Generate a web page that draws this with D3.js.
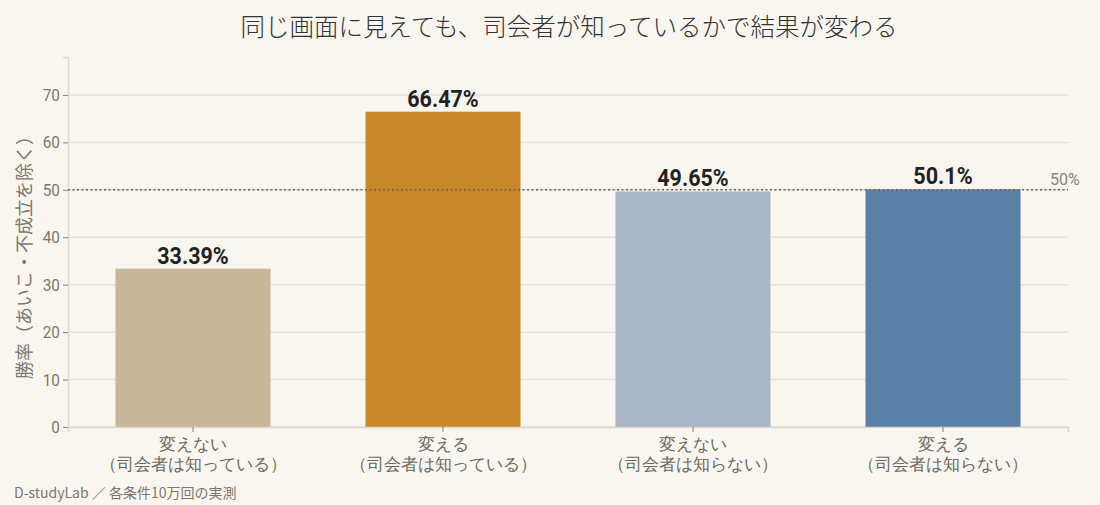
<!DOCTYPE html>
<html>
<head>
<meta charset="utf-8">
<script src="https://cdn.jsdelivr.net/npm/d3@7"></script>
<style>
  html, body { margin: 0; padding: 0; background: #f9f6f0; }
  svg { display: block; font-family: "Noto Sans CJK JP", "Noto Sans", sans-serif; }
</style>
</head>
<body>
<svg id="chart"></svg>
<script>
const categories = [
  ["変えない", "（司会者は知っている）"],
  ["変える", "（司会者は知っている）"],
  ["変えない", "（司会者は知らない）"],
  ["変える", "（司会者は知らない）"]
];
const winRates = [33.39, 66.47, 49.65, 50.1];
const valueLabels = ["33.39%", "66.47%", "49.65%", "50.1%"];
const barColors = ["#c8b698", "#c8882a", "#aab6c7", "#5b7fa6"];
const yTicks = [0, 10, 20, 30, 40, 50, 60, 70];
const refValue = 50;

const width = 1100;
const height = 505;
const marginTop = 57;
const marginRight = 32;
const marginBottom = 78;
const marginLeft = 68;

const svg = d3.select("#chart")
  .attr("width", width)
  .attr("height", height)
  .attr("viewBox", [0, 0, width, height]);

svg.append("rect").attr("width", width).attr("height", height).attr("fill", "#f9f6f0");

const x = d3.scaleBand()
  .domain(d3.range(winRates.length))
  .range([marginLeft, width - marginRight])
  .paddingInner(0.38)
  .paddingOuter(0.19);

const y = d3.scaleLinear()
  .domain([0, 78])
  .range([height - marginBottom, marginTop]);

// grid
svg.append("g")
  .selectAll("line")
  .data(yTicks)
  .join("line")
  .attr("x1", marginLeft)
  .attr("x2", width - marginRight)
  .attr("y1", d => y(d))
  .attr("y2", d => y(d))
  .attr("stroke", "#e5e1d9")
  .attr("stroke-width", 1.5);

// bars
svg.append("g")
  .selectAll("rect")
  .data(winRates)
  .join("rect")
  .attr("x", (d, i) => x(i))
  .attr("y", d => y(d))
  .attr("width", x.bandwidth())
  .attr("height", d => y(0) - y(d))
  .attr("fill", (d, i) => barColors[i]);

// y axis
svg.append("g")
  .attr("transform", `translate(${marginLeft},0)`)
  .call(d3.axisLeft(y).tickValues(yTicks).tickSize(5).tickPadding(4))
  .call(g => g.select(".domain").attr("stroke", "#ddd8cf").attr("stroke-width", 1.5))
  .call(g => g.selectAll(".tick line").attr("stroke", "#8a8278"))
  .call(g => g.selectAll(".tick text")
    .attr("fill", "#7d766c")
    .attr("font-size", 17)
    .attr("font-family", "'Roboto', 'Noto Sans', sans-serif")
    .attr("transform", "scale(0.9,1)"));

// x axis
const xAxis = svg.append("g")
  .attr("transform", `translate(0,${y(0)})`)
  .call(d3.axisBottom(x).tickSize(5).tickFormat(""))
  .call(g => g.select(".domain").attr("stroke", "#ddd8cf").attr("stroke-width", 1.5))
  .call(g => g.selectAll(".tick line").attr("stroke", "#8a8278"));

xAxis.selectAll(".tick")
  .append("text")
  .attr("fill", "#6f685f")
  .attr("font-size", 17)
  .attr("text-anchor", "middle")
  .selectAll("tspan")
  .data(i => categories[i])
  .join("tspan")
  .attr("x", 0)
  .attr("y", (d, j) => 23 + j * 20)
  .text(d => d);

// reference line
svg.append("line")
  .attr("x1", marginLeft)
  .attr("x2", width - marginRight)
  .attr("y1", y(refValue))
  .attr("y2", y(refValue))
  .attr("stroke", "#6a645c")
  .attr("stroke-width", 1.6)
  .attr("stroke-dasharray", "2,2.5");

svg.append("text")
  .attr("x", width - marginRight - 18)
  .attr("y", y(refValue) - 5)
  .attr("fill", "#8a8278")
  .attr("font-size", 16)
  .attr("font-family", "'Roboto', 'Noto Sans', sans-serif")
  .text(refValue + "%");

// value labels
svg.append("g")
  .selectAll("text")
  .data(winRates)
  .join("text")
  .attr("x", (d, i) => x(i) + x.bandwidth() / 2)
  .attr("y", d => y(d) - 5)
  .attr("text-anchor", "middle")
  .attr("fill", "#222")
  .attr("font-size", 23)
  .attr("font-weight", "bold")
  .attr("font-family", "'Roboto', 'Noto Sans', sans-serif")
  .attr("textLength", (d, i) => valueLabels[i].length * 11.9)
  .attr("lengthAdjust", "spacingAndGlyphs")
  .text((d, i) => valueLabels[i]);

// title
svg.append("text")
  .attr("x", 569)
  .attr("y", 36)
  .attr("text-anchor", "middle")
  .attr("fill", "#333")
  .attr("font-size", 24.5)
  .attr("font-weight", 300)
  .text("同じ画面に見えても、司会者が知っているかで結果が変わる");

// y label
svg.append("text")
  .attr("transform", `translate(31,${253}) rotate(-90)`)
  .attr("text-anchor", "middle")
  .attr("fill", "#7d766c")
  .attr("font-size", 18)
  .text("勝率（あいこ・不成立を除く）");

// footer
svg.append("text")
  .attr("x", 14)
  .attr("y", 498)
  .attr("fill", "#7d766c")
  .attr("font-size", 14)
  .text("D-studyLab ／ 各条件10万回の実測");
</script>
</body>
</html>
